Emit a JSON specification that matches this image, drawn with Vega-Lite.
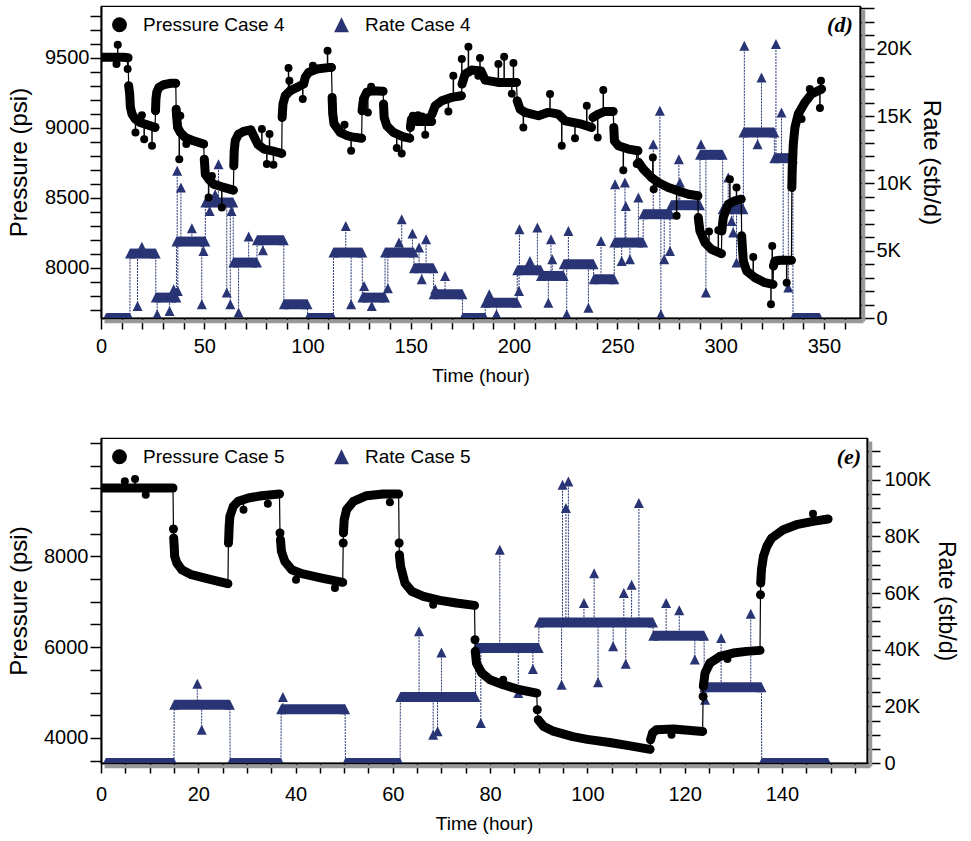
{
"$schema": "https://vega.github.io/schema/vega-lite/v6.json",
"background": "white",
"padding": {"left": 6, "top": 5, "right": 2, "bottom": 5},
"spacing": 51,
"resolve": {"scale": {"x": "independent", "y": "independent", "color": "independent", "shape": "independent"}},
"config": {
  "view": {"stroke": "black", "strokeWidth": 1.2},
  "axis": {"grid": false, "labelOverlap": false, "labelFont": "Liberation Sans, Arial, sans-serif", "labelFontSize": 20, "labelColor": "black", "tickColor": "black", "tickWidth": 1.5, "domainColor": "black", "domainWidth": 2, "titleFontWeight": "normal", "titleColor": "black", "titleFont": "Liberation Sans, Arial, sans-serif"},
  "legend": {"orient": "top-left", "direction": "horizontal", "symbolSize": 220, "labelFont": "Liberation Sans, Arial, sans-serif", "labelFontSize": 19, "labelColor": "black", "columnPadding": 47, "labelOffset": 14, "offset": 9, "padding": 0, "symbolStrokeWidth": 0}
},
"datasets": {
"p4": [
{"t":0.3,"p":9503,"s":"a"},{"t":3,"p":9503,"s":"a"},{"t":6,"p":9503,"s":"a"},{"t":9,"p":9503,"s":"a"},{"t":11,"p":9503,"s":"a"},{"t":13.1,"p":9500,"s":"a"},
{"t":13.4,"p":9300,"s":"b"},{"t":13.9,"p":9241,"s":"b"},{"t":14.2,"p":9150,"s":"b"},{"t":15,"p":9098,"s":"b"},{"t":16.6,"p":9062,"s":"b"},{"t":19,"p":9038,"s":"b"},{"t":22.3,"p":9022,"s":"b"},{"t":26.2,"p":9003,"s":"b"},
{"t":26.4,"p":9122,"s":"c"},{"t":26.6,"p":9205,"s":"c"},{"t":27,"p":9253,"s":"c"},{"t":28,"p":9288,"s":"c"},{"t":30.3,"p":9307,"s":"c"},{"t":33.5,"p":9317,"s":"c"},{"t":36.2,"p":9317,"s":"c"},
{"t":36.4,"p":9133,"s":"d"},{"t":36.6,"p":9086,"s":"d"},{"t":37.1,"p":9003,"s":"d"},{"t":38.4,"p":8967,"s":"d"},{"t":40.8,"p":8931,"s":"d"},{"t":44.8,"p":8907,"s":"d"},{"t":49.7,"p":8884,"s":"d"},
{"t":50,"p":8776,"s":"e"},{"t":50.2,"p":8740,"s":"e"},{"t":50.5,"p":8669,"s":"e"},{"t":52.1,"p":8634,"s":"e"},{"t":54.5,"p":8598,"s":"e"},{"t":58.5,"p":8579,"s":"e"},{"t":64.1,"p":8555,"s":"e"},
{"t":64.3,"p":8729,"s":"f"},{"t":64.5,"p":8836,"s":"f"},{"t":65,"p":8907,"s":"f"},{"t":66.6,"p":8955,"s":"f"},{"t":69,"p":8974,"s":"f"},{"t":72.5,"p":8986,"s":"f"},{"t":74,"p":8940,"s":"f"},{"t":76,"p":8880,"s":"f"},{"t":79,"p":8848,"s":"f"},{"t":84,"p":8831,"s":"f"},{"t":87.5,"p":8817,"s":"f"},
{"t":87.7,"p":9074,"s":"g"},{"t":88.1,"p":9169,"s":"g"},{"t":89.2,"p":9229,"s":"g"},{"t":91.6,"p":9264,"s":"g"},{"t":94.8,"p":9288,"s":"g"},{"t":98.1,"p":9312,"s":"g"},{"t":98.9,"p":9360,"s":"g"},{"t":100.5,"p":9395,"s":"g"},{"t":104.5,"p":9419,"s":"g"},{"t":111,"p":9431,"s":"g"},{"t":111.6,"p":9431,"s":"g"},
{"t":111.9,"p":9217,"s":"h"},{"t":112.2,"p":9100,"s":"h"},{"t":112.8,"p":9030,"s":"h"},{"t":115.8,"p":8967,"s":"h"},{"t":119,"p":8945,"s":"h"},{"t":121.4,"p":8935,"s":"h"},{"t":126.2,"p":8926,"s":"h"},
{"t":126.4,"p":9122,"s":"i"},{"t":127.1,"p":9205,"s":"i"},{"t":128.7,"p":9253,"s":"i"},{"t":131.1,"p":9264,"s":"i"},{"t":136.6,"p":9260,"s":"i"},
{"t":136.8,"p":9169,"s":"k"},{"t":137.1,"p":9074,"s":"k"},{"t":138.4,"p":9014,"s":"k"},{"t":141.6,"p":8967,"s":"k"},{"t":146.4,"p":8936,"s":"k"},{"t":149.5,"p":8926,"s":"k"},
{"t":149.8,"p":9003,"s":"l"},{"t":150.3,"p":9060,"s":"l"},{"t":153,"p":9045,"s":"l"},{"t":157,"p":9045,"s":"l"},{"t":160.1,"p":9045,"s":"l"},
{"t":160.3,"p":9098,"s":"m"},{"t":161.8,"p":9157,"s":"m"},{"t":165,"p":9193,"s":"m"},{"t":169.8,"p":9217,"s":"m"},{"t":174.5,"p":9229,"s":"m"},
{"t":174.8,"p":9312,"s":"n"},{"t":176.3,"p":9383,"s":"n"},{"t":179.5,"p":9412,"s":"n"},{"t":184,"p":9405,"s":"n"},{"t":186,"p":9340,"s":"n"},{"t":192.4,"p":9324,"s":"n"},{"t":201.2,"p":9324,"s":"n"},
{"t":201.5,"p":9193,"s":"o"},{"t":202.9,"p":9133,"s":"o"},{"t":205.3,"p":9110,"s":"o"},{"t":211.8,"p":9086,"s":"o"},{"t":214.5,"p":9100,"s":"o"},{"t":216.6,"p":9110,"s":"o"},{"t":219,"p":9105,"s":"o"},{"t":221.4,"p":9098,"s":"o"},{"t":224.7,"p":9050,"s":"o"},{"t":232.7,"p":9026,"s":"o"},{"t":237.5,"p":9003,"s":"o"},
{"t":238.2,"p":9074,"s":"p"},{"t":240.8,"p":9098,"s":"p"},{"t":244,"p":9117,"s":"p"},{"t":248,"p":9117,"s":"p"},
{"t":248.3,"p":9003,"s":"q"},{"t":248.6,"p":8907,"s":"q"},{"t":250.5,"p":8872,"s":"q"},{"t":255.3,"p":8848,"s":"q"},{"t":260,"p":8836,"s":"q"},
{"t":260.3,"p":8753,"s":"r"},{"t":262.6,"p":8705,"s":"r"},{"t":266.6,"p":8645,"s":"r"},{"t":269.8,"p":8610,"s":"r"},{"t":274.7,"p":8574,"s":"r"},{"t":279.5,"p":8550,"s":"r"},{"t":284.4,"p":8526,"s":"r"},{"t":289,"p":8515,"s":"r"},
{"t":289.2,"p":8360,"s":"s"},{"t":290,"p":8264,"s":"s"},{"t":292.4,"p":8181,"s":"s"},{"t":295.6,"p":8133,"s":"s"},{"t":300.4,"p":8102,"s":"s"},
{"t":300.6,"p":8264,"s":"t"},{"t":301.3,"p":8360,"s":"t"},{"t":303.7,"p":8455,"s":"t"},{"t":306.9,"p":8479,"s":"t"},{"t":310,"p":8491,"s":"t"},
{"t":310.2,"p":8229,"s":"u"},{"t":311,"p":8050,"s":"u"},{"t":312.6,"p":7979,"s":"u"},{"t":316.6,"p":7931,"s":"u"},{"t":321.5,"p":7895,"s":"u"},{"t":325.4,"p":7883,"s":"u"},
{"t":325.6,"p":8014,"s":"v"},{"t":326.3,"p":8050,"s":"v"},{"t":328.7,"p":8055,"s":"v"},{"t":334.3,"p":8055,"s":"v"},
{"t":334.5,"p":8574,"s":"w"},{"t":334.7,"p":8705,"s":"w"},{"t":335.2,"p":8884,"s":"w"},{"t":336,"p":9003,"s":"w"},{"t":337.6,"p":9098,"s":"w"},{"t":340.8,"p":9181,"s":"w"},{"t":344,"p":9241,"s":"w"},{"t":348.9,"p":9276,"s":"w"}
],
"o4": [
{"t":7.5,"p":9455,"b":9503},{"t":8.1,"p":9593,"b":9503},{"t":12.9,"p":9419,"b":9503},
{"t":16.7,"p":8967,"b":9062},{"t":19.8,"p":9090,"b":9035},{"t":20.9,"p":8919,"b":9030},{"t":24.7,"p":8872,"b":9010},
{"t":37.9,"p":8776,"b":8990},{"t":38.4,"p":9086,"b":8967},{"t":41.3,"p":8884,"b":8930},
{"t":52.1,"p":8503,"b":8634},{"t":53.7,"p":8657,"b":8610},{"t":58.5,"p":8431,"b":8579},
{"t":77.9,"p":8991,"b":8860},{"t":80.3,"p":8741,"b":8840},{"t":81.6,"p":8955,"b":8838},{"t":83.5,"p":8736,"b":8832},
{"t":90.8,"p":9426,"b":9260},{"t":91.2,"p":9336,"b":9262},{"t":97.7,"p":9205,"b":9310},
{"t":102.6,"p":9443,"b":9410},{"t":109.7,"p":9550,"b":9430},
{"t":117.9,"p":9022,"b":8950},{"t":121.1,"p":8836,"b":8935},
{"t":129.2,"p":9110,"b":9258},{"t":130.8,"p":9293,"b":9262},
{"t":143.2,"p":8855,"b":8955},{"t":145.6,"p":8817,"b":8945},
{"t":151,"p":9086,"b":9050},{"t":153.5,"p":9090,"b":9045},{"t":155.5,"p":9080,"b":9045},{"t":157,"p":8950,"b":9045},{"t":158.5,"p":9075,"b":9045},
{"t":168.2,"p":9117,"b":9212},
{"t":170.6,"p":9372,"b":9220},{"t":174.7,"p":9491,"b":9300},{"t":177.9,"p":9579,"b":9395},{"t":182.7,"p":9372,"b":9410},{"t":183.5,"p":9498,"b":9405},{"t":192.4,"p":9455,"b":9324},{"t":195.2,"p":9507,"b":9324},{"t":198.9,"p":9243,"b":9324},{"t":199.7,"p":9462,"b":9324},
{"t":204.5,"p":9003,"b":9115},{"t":217.4,"p":9241,"b":9110},{"t":223.1,"p":8872,"b":9070},{"t":229.5,"p":8926,"b":9030},
{"t":235.2,"p":9157,"b":9010},{"t":240.5,"p":8931,"b":9098},{"t":243.2,"p":9269,"b":9117},
{"t":252.9,"p":8698,"b":8860},{"t":259.4,"p":8741,"b":8838},{"t":267.2,"p":8788,"b":8640},{"t":267.6,"p":8562,"b":8640},
{"t":278.7,"p":8372,"b":8550},
{"t":294.4,"p":8260,"b":8150},{"t":298.9,"p":8269,"b":8110},
{"t":304.5,"p":8633,"b":8460},{"t":307.7,"p":8574,"b":8482},
{"t":315.8,"p":8079,"b":7935},{"t":324.4,"p":7741,"b":7885},{"t":325,"p":8157,"b":7885},
{"t":332,"p":7895,"b":8055},
{"t":339.2,"p":9062,"b":9140},{"t":343.2,"p":9276,"b":9230},{"t":348.1,"p":9141,"b":9270},{"t":348.6,"p":9336,"b":9275}
],
"r4": [
{"t":2.5,"q":0,"s":"a"},{"t":14,"q":0,"s":"a"},
{"t":14.05,"q":4785,"s":"b"},{"t":26.5,"q":4785,"s":"b"},
{"t":26.55,"q":1514,"s":"c"},{"t":36.5,"q":1514,"s":"c"},
{"t":36.55,"q":5677,"s":"d"},{"t":50.5,"q":5677,"s":"d"},
{"t":50.55,"q":8576,"s":"e"},{"t":64,"q":8576,"s":"e"},
{"t":64.05,"q":4116,"s":"f"},{"t":75.5,"q":4116,"s":"f"},
{"t":75.55,"q":5776,"s":"g"},{"t":88.5,"q":5776,"s":"g"},
{"t":88.55,"q":1018,"s":"h"},{"t":100,"q":1018,"s":"h"},
{"t":100.05,"q":0,"s":"i"},{"t":112.5,"q":0,"s":"i"},
{"t":112.55,"q":4860,"s":"j"},{"t":126.5,"q":4860,"s":"j"},
{"t":126.55,"q":1514,"s":"k"},{"t":137.5,"q":1514,"s":"k"},
{"t":137.55,"q":4860,"s":"l"},{"t":151.5,"q":4860,"s":"l"},
{"t":151.55,"q":3695,"s":"m"},{"t":161,"q":3695,"s":"m"},
{"t":161.05,"q":1762,"s":"n"},{"t":175,"q":1762,"s":"n"},
{"t":175.05,"q":0,"s":"o"},{"t":186,"q":0,"s":"o"},
{"t":186.05,"q":1142,"s":"p"},{"t":201.5,"q":1142,"s":"p"},
{"t":201.55,"q":3546,"s":"q"},{"t":213,"q":3546,"s":"q"},
{"t":213.05,"q":3125,"s":"r"},{"t":224,"q":3125,"s":"r"},
{"t":224.05,"q":3992,"s":"s"},{"t":238.5,"q":3992,"s":"s"},
{"t":238.55,"q":2877,"s":"t"},{"t":248.5,"q":2877,"s":"t"},
{"t":248.55,"q":5603,"s":"u"},{"t":262.5,"q":5603,"s":"u"},
{"t":262.55,"q":7709,"s":"v"},{"t":276,"q":7709,"s":"v"},
{"t":276.05,"q":8378,"s":"w"},{"t":290,"q":8378,"s":"w"},
{"t":290.05,"q":12120,"s":"x"},{"t":301,"q":12120,"s":"x"},
{"t":301.05,"q":8081,"s":"y"},{"t":311,"q":8081,"s":"y"},
{"t":311.05,"q":13780,"s":"z"},{"t":326,"q":13780,"s":"z"},
{"t":326.05,"q":11872,"s":"A"},{"t":335,"q":11872,"s":"A"},
{"t":335.05,"q":0,"s":"B"},{"t":348,"q":0,"s":"B"}
],
"k4": [
{"t":17.7,"q":894,"b":4785},{"t":19.8,"q":5300,"b":4785},{"t":27.2,"q":275,"b":1514},{"t":33.2,"q":523,"b":1514},{"t":35.2,"q":2133,"b":1514},
{"t":36.9,"q":10930,"b":5677},{"t":37.2,"q":2009,"b":5677},{"t":38.7,"q":9691,"b":5677},{"t":44,"q":6668,"b":5677},{"t":48.8,"q":1018,"b":5677},{"t":49.6,"q":4983,"b":5677},
{"t":52.6,"q":7957,"b":8576},{"t":55.3,"q":9196,"b":8576},{"t":56.9,"q":11426,"b":8576},{"t":60.9,"q":1886,"b":8576},{"t":62.6,"q":1018,"b":8576},{"t":63.2,"q":7957,"b":8576},
{"t":66.6,"q":400,"b":4116},{"t":71.5,"q":6050,"b":4116},{"t":78.4,"q":5033,"b":5776},
{"t":118.5,"q":6842,"b":4860},{"t":121.1,"q":1018,"b":4860},{"t":127.4,"q":2381,"b":1514},{"t":131.1,"q":894,"b":1514},
{"t":138.9,"q":2207,"b":4860},{"t":144.3,"q":5603,"b":4860},{"t":145.6,"q":7337,"b":4860},{"t":150.8,"q":6272,"b":4860},
{"t":154,"q":5231,"b":3695},{"t":155.3,"q":2877,"b":3695},{"t":157.4,"q":5851,"b":3695},{"t":161.8,"q":2133,"b":1762},{"t":166.6,"q":3125,"b":1762},
{"t":188,"q":1762,"b":1142},{"t":191.5,"q":275,"b":1142},
{"t":202.4,"q":2009,"b":3546},{"t":202.6,"q":6594,"b":3546},{"t":207.7,"q":4240,"b":3546},{"t":211.3,"q":6718,"b":3546},
{"t":216.6,"q":1142,"b":3125},{"t":217.9,"q":5851,"b":3125},{"t":218.5,"q":4364,"b":3125},
{"t":225.5,"q":275,"b":3992},{"t":226.3,"q":6470,"b":3992},{"t":236,"q":770,"b":3992},
{"t":242.1,"q":5727,"b":2877},
{"t":248.9,"q":9939,"b":5603},{"t":252.1,"q":4240,"b":5603},{"t":253.7,"q":10063,"b":5603},{"t":254.1,"q":8328,"b":5603},{"t":256.1,"q":4364,"b":5603},{"t":260.2,"q":8948,"b":5603},
{"t":267.4,"q":12913,"b":7709},{"t":270.6,"q":15391,"b":7709},{"t":271.1,"q":276,"b":7709},{"t":272.7,"q":4364,"b":7709},{"t":275.5,"q":4983,"b":7709},
{"t":279.8,"q":11798,"b":8378},{"t":280.3,"q":10063,"b":8378},
{"t":290.5,"q":12913,"b":12120},{"t":292.9,"q":1886,"b":12120},
{"t":303.7,"q":10435,"b":8081},{"t":305.3,"q":7213,"b":8081},{"t":306.1,"q":6346,"b":8081},{"t":307.7,"q":4116,"b":8081},
{"t":311.5,"q":20223,"b":13780},{"t":317.9,"q":12913,"b":13780},{"t":319.8,"q":17869,"b":13780},
{"t":326.8,"q":20347,"b":11872},{"t":329.5,"q":15267,"b":11872},{"t":330.3,"q":4364,"b":11872},{"t":332.8,"q":2257,"b":11872}
],
"p5": [
{"t":0.3,"p":9506,"s":"a"},{"t":3,"p":9506,"s":"a"},{"t":6,"p":9506,"s":"a"},{"t":9,"p":9506,"s":"a"},{"t":12,"p":9506,"s":"a"},{"t":14.8,"p":9506,"s":"a"},
{"t":14.9,"p":8603,"s":"j1"},
{"t":14.95,"p":8404,"s":"b"},{"t":15.05,"p":8221,"s":"b"},{"t":15.15,"p":8001,"s":"b"},{"t":15.6,"p":7854,"s":"b"},{"t":16.6,"p":7707,"s":"b"},{"t":18.6,"p":7597,"s":"b"},{"t":21.4,"p":7523,"s":"b"},{"t":24.1,"p":7450,"s":"b"},{"t":26.1,"p":7398,"s":"b"},
{"t":26.2,"p":8294,"s":"j2"},
{"t":26.25,"p":8368,"s":"c"},{"t":26.35,"p":8661,"s":"c"},{"t":26.5,"p":8882,"s":"c"},{"t":27.2,"p":9102,"s":"c"},{"t":28.2,"p":9212,"s":"c"},{"t":30.3,"p":9286,"s":"c"},{"t":33,"p":9337,"s":"c"},{"t":36.7,"p":9374,"s":"c"},
{"t":36.8,"p":8515,"s":"j3"},
{"t":36.9,"p":8368,"s":"d"},{"t":37.1,"p":8111,"s":"d"},{"t":37.8,"p":7890,"s":"d"},{"t":39.2,"p":7707,"s":"d"},{"t":41.3,"p":7619,"s":"d"},{"t":45.4,"p":7523,"s":"d"},{"t":49.7,"p":7428,"s":"d"},
{"t":49.8,"p":8294,"s":"j4"},
{"t":49.85,"p":8515,"s":"e"},{"t":50,"p":8808,"s":"e"},{"t":50.5,"p":9029,"s":"e"},{"t":51.9,"p":9212,"s":"e"},{"t":54.6,"p":9337,"s":"e"},{"t":58,"p":9374,"s":"e"},{"t":61.2,"p":9374,"s":"e"},
{"t":61.3,"p":8294,"s":"j5"},
{"t":61.35,"p":8037,"s":"f"},{"t":61.6,"p":7780,"s":"f"},{"t":62.5,"p":7413,"s":"f"},{"t":63.9,"p":7229,"s":"f"},{"t":66.3,"p":7119,"s":"f"},{"t":69.7,"p":7031,"s":"f"},{"t":73.1,"p":6972,"s":"f"},{"t":76.8,"p":6921,"s":"f"},
{"t":76.9,"p":6165,"s":"j6"},
{"t":76.95,"p":5908,"s":"g"},{"t":77.2,"p":5651,"s":"g"},{"t":78.3,"p":5431,"s":"g"},{"t":80,"p":5284,"s":"g"},{"t":82.7,"p":5173,"s":"g"},{"t":86.1,"p":5063,"s":"g"},{"t":89.6,"p":4990,"s":"g"},
{"t":89.7,"p":4623,"s":"j7"},
{"t":89.9,"p":4402,"s":"h"},{"t":91,"p":4256,"s":"h"},{"t":93,"p":4150,"s":"h"},{"t":97,"p":4030,"s":"h"},{"t":100,"p":3970,"s":"h"},{"t":104.6,"p":3900,"s":"h"},{"t":108.8,"p":3825,"s":"h"},{"t":112.9,"p":3750,"s":"h"},
{"t":113,"p":3962,"s":"i"},{"t":113.4,"p":4109,"s":"i"},{"t":114.2,"p":4182,"s":"i"},{"t":117.7,"p":4197,"s":"i"},{"t":123.7,"p":4145,"s":"i"},
{"t":123.8,"p":4916,"s":"j8"},
{"t":123.85,"p":5137,"s":"j"},{"t":124.2,"p":5431,"s":"j"},{"t":125.2,"p":5651,"s":"j"},{"t":127.3,"p":5798,"s":"j"},{"t":130,"p":5871,"s":"j"},{"t":132.7,"p":5908,"s":"j"},{"t":135.5,"p":5930,"s":"j"},
{"t":135.6,"p":7156,"s":"j9"},
{"t":135.65,"p":7413,"s":"k"},{"t":135.8,"p":7707,"s":"k"},{"t":136.2,"p":8001,"s":"k"},{"t":136.9,"p":8221,"s":"k"},{"t":137.9,"p":8404,"s":"k"},{"t":140.3,"p":8588,"s":"k"},{"t":143,"p":8698,"s":"k"},{"t":146.4,"p":8772,"s":"k"},{"t":149.5,"p":8823,"s":"k"}
],
"o5": [
{"t":4.9,"p":9653,"b":9506},{"t":7,"p":9704,"b":9506},{"t":9.2,"p":9359,"b":9506},{"t":29.3,"p":9029,"b":9250},{"t":34.3,"p":9161,"b":9350},{"t":40.1,"p":7487,"b":7650},{"t":48.1,"p":7303,"b":7440},{"t":59.4,"p":9190,"b":9370},{"t":68.3,"p":6936,"b":7050},{"t":82.7,"p":5284,"b":5173},{"t":117.3,"p":4072,"b":4195},{"t":128.8,"p":5739,"b":5830},{"t":146.4,"p":8940,"b":8772}
],
"r5": [
{"t":1,"q":0,"s":"a"},{"t":15,"q":0,"s":"a"},
{"t":15.05,"q":20600,"s":"b"},{"t":26.5,"q":20600,"s":"b"},
{"t":26.55,"q":0,"s":"c"},{"t":37,"q":0,"s":"c"},
{"t":37.05,"q":19000,"s":"d"},{"t":50.2,"q":19000,"s":"d"},
{"t":50.25,"q":0,"s":"e"},{"t":61.5,"q":0,"s":"e"},
{"t":61.55,"q":23300,"s":"f"},{"t":77,"q":23300,"s":"f"},
{"t":77.05,"q":40600,"s":"g"},{"t":90,"q":40600,"s":"g"},
{"t":90.05,"q":49600,"s":"h"},{"t":113.5,"q":49600,"s":"h"},
{"t":113.55,"q":44900,"s":"i"},{"t":124,"q":44900,"s":"i"},
{"t":124.05,"q":26700,"s":"j"},{"t":135.8,"q":26700,"s":"j"},
{"t":135.85,"q":0,"s":"k"},{"t":149.5,"q":0,"s":"k"}
],
"k5": [
{"t":19.8,"q":28000,"b":20600},{"t":20.7,"q":11750,"b":20600},{"t":37.4,"q":23300,"b":19000},
{"t":65.4,"q":46500,"b":23300},{"t":68.3,"q":10000,"b":23300},{"t":69.2,"q":11200,"b":23300},{"t":70,"q":39000,"b":23300},
{"t":78.1,"q":14100,"b":40600},{"t":82,"q":75300,"b":40600},{"t":85.8,"q":24700,"b":40600},{"t":88.8,"q":33200,"b":40600},
{"t":94.7,"q":27600,"b":49600},{"t":94.9,"q":98200,"b":49600},{"t":95.6,"q":90000,"b":49600},{"t":96.1,"q":99400,"b":49600},{"t":99.3,"q":56500,"b":49600},{"t":101.4,"q":67000,"b":49600},{"t":102.2,"q":28500,"b":49600},{"t":105.3,"q":41200,"b":49600},{"t":107.5,"q":60000,"b":49600},{"t":107.9,"q":35000,"b":49600},{"t":109.1,"q":62900,"b":49600},{"t":110.6,"q":91800,"b":49600},
{"t":116.2,"q":56500,"b":44900},{"t":118.9,"q":53900,"b":44900},{"t":122.1,"q":36500,"b":44900},
{"t":124.2,"q":22300,"b":26700},{"t":127.5,"q":44100,"b":26700},{"t":133.6,"q":52700,"b":26700}
],
"lab4": [{"t":364,"p":9686,"lab":"(d)"}],
"lab5": [{"t":156.3,"p":10042,"lab":"(e)"}],
"frame4": [{"t0":0,"t1":367.5,"p0":7643,"p1":9869}],
"frame5": [{"t0":0,"t1":157.5,"p0":3449,"p1":10608}]
},
"vconcat": [
{
  "width": 759, "height": 312,
  "resolve": {"scale": {"y": "independent"}},
  "layer": [
    {
      "encoding": {
        "x": {"field": "t", "type": "quantitative", "scale": {"domain": [0, 367.5], "nice": false, "zero": false},
              "axis": {"orient": "bottom", "values": [0,10,20,30,40,50,60,70,80,90,100,110,120,130,140,150,160,170,180,190,200,210,220,230,240,250,260,270,280,290,300,310,320,330,340,350,360],
                       "labelExpr": "datum.value % 50 === 0 ? datum.label : ''", "format": "d", "labelOverlap": false,
                       "labelFontSize": {"condition": {"test": "datum.value % 50 !== 0", "value": 0}, "value": 20},
                       "tickSize": 11, "labelPadding": 7, "labelFlush": false,
                       "encode": {"ticks": {"update": {"y": {"value": -13}, "y2": {"signal": "datum.value % 50 === 0 ? 11 : 0"}}}},
                       "title": "Time (hour)", "titleFontSize": 19, "titlePadding": 10}},
        "y": {"field": "q", "type": "quantitative", "scale": {"domain": [0, 23175], "nice": false, "zero": false},
              "axis": {"orient": "right", "values": [0,1000,2000,3000,4000,5000,6000,7000,8000,9000,10000,11000,12000,13000,14000,15000,16000,17000,18000,19000,20000,21000,22000,23000],
                       "labelExpr": "datum.value % 5000 === 0 ? (datum.value === 0 ? '0' : format(datum.value/1000, 'd') + 'K') : ''",
                       "labelFontSize": {"condition": {"test": "datum.value % 5000 !== 0", "value": 0}, "value": 20},
                       "labelOverlap": false,
                       "tickSize": 14, "labelPadding": 2, "labelBaseline": "middle",
                       "encode": {"ticks": {"update": {"x": {"value": -11}, "x2": {"signal": "datum.value % 5000 === 0 ? 14 : 0"}}}},
                       "title": "Rate (stb/d)", "titleAngle": 90, "titleFontSize": 24, "titlePadding": 7}}
      },
      "layer": [
        {"data": {"name": "r4"}, "mark": {"type": "line", "color": "#283474", "strokeWidth": 1, "strokeDash": [2, 1], "clip": true}},
        {"data": {"name": "r4"}, "mark": {"type": "line", "color": "#283474", "strokeWidth": 10, "strokeCap": "butt", "clip": true}, "encoding": {"detail": {"field": "s"}}},
        {"data": {"name": "k4"}, "mark": {"type": "rule", "color": "#283474", "strokeWidth": 1, "strokeDash": [2, 1], "clip": true}, "encoding": {"y2": {"field": "b"}}},
        {"data": {"name": "k4"}, "mark": {"type": "point", "shape": "M0,-1L1,1L-1,1Z", "filled": true, "size": 100, "color": "#283474", "opacity": 1, "clip": true}},
        {"data": {"name": "r4"}, "mark": {"type": "point", "filled": true, "size": 100, "opacity": 1, "clip": true},
         "encoding": {
           "color": {"datum": "Rate Case 4", "scale": {"domain": ["Pressure Case 4", "Rate Case 4"], "range": ["black", "#283474"]}, "legend": {"title": null}},
           "shape": {"datum": "Rate Case 4", "scale": {"domain": ["Pressure Case 4", "Rate Case 4"], "range": ["circle", "M0,-1L1,1L-1,1Z"]}, "legend": {"title": null}}
         }}
      ]
    },
    {
      "encoding": {
        "x": {"field": "t", "type": "quantitative", "scale": {"domain": [0, 367.5], "nice": false, "zero": false},
              "axis": {"orient": "bottom", "values": [0,10,20,30,40,50,60,70,80,90,100,110,120,130,140,150,160,170,180,190,200,210,220,230,240,250,260,270,280,290,300,310,320,330,340,350,360],
                       "labelExpr": "datum.value % 50 === 0 ? datum.label : ''", "format": "d", "labelOverlap": false,
                       "labelFontSize": {"condition": {"test": "datum.value % 50 !== 0", "value": 0}, "value": 20},
                       "tickSize": 11, "labelPadding": 7, "labelFlush": false,
                       "encode": {"ticks": {"update": {"y": {"value": -13}, "y2": {"signal": "datum.value % 50 === 0 ? 11 : 0"}}}},
                       "title": "Time (hour)", "titleFontSize": 19, "titlePadding": 10}},
        "y": {"field": "p", "type": "quantitative", "scale": {"domain": [7643, 9869], "nice": false, "zero": false},
              "axis": {"orient": "left", "values": [7700,7800,7900,8000,8100,8200,8300,8400,8500,8600,8700,8800,8900,9000,9100,9200,9300,9400,9500,9600,9700,9800],
                       "labelExpr": "datum.value % 500 === 0 ? datum.label : ''", "format": "d", "labelOverlap": false,
                       "labelFontSize": {"condition": {"test": "datum.value % 500 !== 0", "value": 0}, "value": 20},
                       "tickSize": 11, "labelPadding": 1,
                       "encode": {"ticks": {"update": {"x": {"value": 11}, "x2": {"signal": "datum.value % 500 === 0 ? -11 : 0"}}}},
                       "title": "Pressure (psi)", "titleFontSize": 24, "titlePadding": 13}}
      },
      "layer": [
        {"data": {"name": "frame4"}, "mark": {"type": "rule", "color": "#999999", "strokeWidth": 3.5, "xOffset": 3.5, "x2Offset": 3.5, "yOffset": 3.5, "clip": false},
         "encoding": {"x": {"field": "t0", "type": "quantitative"}, "x2": {"field": "t1"}, "y": {"field": "p0", "type": "quantitative"}}},
        {"data": {"name": "frame4"}, "mark": {"type": "rule", "color": "#999999", "strokeWidth": 3.5, "xOffset": 3.5, "yOffset": 3.5, "y2Offset": 3.5, "clip": false},
         "encoding": {"x": {"field": "t1", "type": "quantitative"}, "y": {"field": "p0", "type": "quantitative"}, "y2": {"field": "p1"}}},
        {"data": {"name": "p4"}, "mark": {"type": "line", "color": "black", "strokeWidth": 1.2, "clip": true}},
        {"data": {"name": "p4"}, "mark": {"type": "line", "color": "black", "strokeWidth": 9, "strokeCap": "round", "strokeJoin": "round", "clip": true}, "encoding": {"detail": {"field": "s"}}},
        {"data": {"name": "o4"}, "mark": {"type": "rule", "color": "black", "strokeWidth": 1.5, "clip": true}, "encoding": {"y2": {"field": "b"}}},
        {"data": {"name": "o4"}, "mark": {"type": "circle", "size": 64, "color": "black", "opacity": 1, "clip": true}},
        {"data": {"name": "p4"}, "mark": {"type": "point", "filled": true, "size": 64, "opacity": 1, "clip": true},
         "encoding": {
           "color": {"datum": "Pressure Case 4", "scale": {"domain": ["Pressure Case 4", "Rate Case 4"], "range": ["black", "#283474"]}, "legend": {"title": null}},
           "shape": {"datum": "Pressure Case 4", "scale": {"domain": ["Pressure Case 4", "Rate Case 4"], "range": ["circle", "M0,-1L1,1L-1,1Z"]}, "legend": {"title": null}}
         }},
        {"data": {"name": "lab4"}, "mark": {"type": "text", "font": "Liberation Serif, DejaVu Serif, serif", "fontSize": 22, "fontStyle": "italic", "fontWeight": "bold", "align": "right", "baseline": "alphabetic", "color": "black"},
         "encoding": {"text": {"field": "lab"}}}
      ]
    }
  ]
},
{
  "width": 766, "height": 325,
  "resolve": {"scale": {"y": "independent"}},
  "layer": [
    {
      "encoding": {
        "x": {"field": "t", "type": "quantitative", "scale": {"domain": [0, 157.5], "nice": false, "zero": false},
              "axis": {"orient": "bottom", "values": [0,5,10,15,20,25,30,35,40,45,50,55,60,65,70,75,80,85,90,95,100,105,110,115,120,125,130,135,140,145,150,155],
                       "labelExpr": "datum.value % 20 === 0 ? datum.label : ''", "format": "d", "labelOverlap": false,
                       "labelFontSize": {"condition": {"test": "datum.value % 20 !== 0", "value": 0}, "value": 20},
                       "tickSize": 10, "labelPadding": 11, "labelFlush": false,
                       "encode": {"ticks": {"update": {"y": {"value": -13}, "y2": {"signal": "datum.value % 20 === 0 ? 10 : 0"}}}},
                       "title": "Time (hour)", "titleFontSize": 19, "titlePadding": 10}},
        "y": {"field": "q", "type": "quantitative", "scale": {"domain": [0, 114720], "nice": false, "zero": false},
              "axis": {"orient": "right", "values": [0,5000,10000,15000,20000,25000,30000,35000,40000,45000,50000,55000,60000,65000,70000,75000,80000,85000,90000,95000,100000,105000,110000],
                       "labelExpr": "datum.value % 20000 === 0 ? (datum.value === 0 ? '0' : format(datum.value/1000, 'd') + 'K') : ''",
                       "labelFontSize": {"condition": {"test": "datum.value % 20000 !== 0", "value": 0}, "value": 20},
                       "labelOverlap": false,
                       "tickSize": 13, "labelPadding": 4, "labelBaseline": "middle",
                       "encode": {"ticks": {"update": {"x": {"value": -11}, "x2": {"signal": "datum.value % 20000 === 0 ? 13 : 0"}}}},
                       "title": "Rate (stb/d)", "titleAngle": 90, "titleFontSize": 23, "titlePadding": 3}}
      },
      "layer": [
        {"data": {"name": "r5"}, "mark": {"type": "line", "color": "#283474", "strokeWidth": 1, "strokeDash": [2, 1], "clip": true}},
        {"data": {"name": "r5"}, "mark": {"type": "line", "color": "#283474", "strokeWidth": 10, "strokeCap": "butt", "clip": true}, "encoding": {"detail": {"field": "s"}}},
        {"data": {"name": "k5"}, "mark": {"type": "rule", "color": "#283474", "strokeWidth": 1, "strokeDash": [2, 1], "clip": true}, "encoding": {"y2": {"field": "b"}}},
        {"data": {"name": "k5"}, "mark": {"type": "point", "shape": "M0,-1L1,1L-1,1Z", "filled": true, "size": 100, "color": "#283474", "opacity": 1, "clip": true}},
        {"data": {"name": "r5"}, "mark": {"type": "point", "filled": true, "size": 100, "opacity": 1, "clip": true},
         "encoding": {
           "color": {"datum": "Rate Case 5", "scale": {"domain": ["Pressure Case 5", "Rate Case 5"], "range": ["black", "#283474"]}, "legend": {"title": null}},
           "shape": {"datum": "Rate Case 5", "scale": {"domain": ["Pressure Case 5", "Rate Case 5"], "range": ["circle", "M0,-1L1,1L-1,1Z"]}, "legend": {"title": null}}
         }}
      ]
    },
    {
      "encoding": {
        "x": {"field": "t", "type": "quantitative", "scale": {"domain": [0, 157.5], "nice": false, "zero": false},
              "axis": {"orient": "bottom", "values": [0,5,10,15,20,25,30,35,40,45,50,55,60,65,70,75,80,85,90,95,100,105,110,115,120,125,130,135,140,145,150,155],
                       "labelExpr": "datum.value % 20 === 0 ? datum.label : ''", "format": "d", "labelOverlap": false,
                       "labelFontSize": {"condition": {"test": "datum.value % 20 !== 0", "value": 0}, "value": 20},
                       "tickSize": 10, "labelPadding": 11, "labelFlush": false,
                       "encode": {"ticks": {"update": {"y": {"value": -13}, "y2": {"signal": "datum.value % 20 === 0 ? 10 : 0"}}}},
                       "title": "Time (hour)", "titleFontSize": 19, "titlePadding": 10}},
        "y": {"field": "p", "type": "quantitative", "scale": {"domain": [3449, 10608], "nice": false, "zero": false},
              "axis": {"orient": "left", "values": [3500,4000,4500,5000,5500,6000,6500,7000,7500,8000,8500,9000,9500,10000,10500],
                       "labelExpr": "(datum.value === 4000 || datum.value === 6000 || datum.value === 8000) ? datum.label : ''", "format": "d", "labelOverlap": false,
                       "labelFontSize": {"condition": {"test": "!(datum.value === 4000 || datum.value === 6000 || datum.value === 8000)", "value": 0}, "value": 20},
                       "tickSize": 11, "labelPadding": 2,
                       "encode": {"ticks": {"update": {"x": {"value": 11}, "x2": {"signal": "(datum.value === 4000 || datum.value === 6000 || datum.value === 8000) ? -11 : 0"}}}},
                       "title": "Pressure (psi)", "titleFontSize": 24, "titlePadding": 12}}
      },
      "layer": [
        {"data": {"name": "frame5"}, "mark": {"type": "rule", "color": "#999999", "strokeWidth": 3.5, "xOffset": 3.5, "x2Offset": 3.5, "yOffset": 3.5, "clip": false},
         "encoding": {"x": {"field": "t0", "type": "quantitative"}, "x2": {"field": "t1"}, "y": {"field": "p0", "type": "quantitative"}}},
        {"data": {"name": "frame5"}, "mark": {"type": "rule", "color": "#999999", "strokeWidth": 3.5, "xOffset": 3.5, "yOffset": 3.5, "y2Offset": 3.5, "clip": false},
         "encoding": {"x": {"field": "t1", "type": "quantitative"}, "y": {"field": "p0", "type": "quantitative"}, "y2": {"field": "p1"}}},
        {"data": {"name": "p5"}, "mark": {"type": "line", "color": "black", "strokeWidth": 1.2, "clip": true}},
        {"data": {"name": "p5"}, "mark": {"type": "line", "color": "black", "strokeWidth": 9, "strokeCap": "round", "strokeJoin": "round", "clip": true}, "encoding": {"detail": {"field": "s"}}},
        {"data": {"name": "o5"}, "mark": {"type": "rule", "color": "black", "strokeWidth": 1.5, "clip": true}, "encoding": {"y2": {"field": "b"}}},
        {"data": {"name": "o5"}, "mark": {"type": "circle", "size": 64, "color": "black", "opacity": 1, "clip": true}},
        {"data": {"name": "p5"}, "mark": {"type": "point", "filled": true, "size": 64, "opacity": 1, "clip": true},
         "encoding": {
           "color": {"datum": "Pressure Case 5", "scale": {"domain": ["Pressure Case 5", "Rate Case 5"], "range": ["black", "#283474"]}, "legend": {"title": null}},
           "shape": {"datum": "Pressure Case 5", "scale": {"domain": ["Pressure Case 5", "Rate Case 5"], "range": ["circle", "M0,-1L1,1L-1,1Z"]}, "legend": {"title": null}}
         }},
        {"data": {"name": "lab5"}, "mark": {"type": "text", "font": "Liberation Serif, DejaVu Serif, serif", "fontSize": 22, "fontStyle": "italic", "fontWeight": "bold", "align": "right", "baseline": "alphabetic", "color": "black"},
         "encoding": {"text": {"field": "lab"}}}
      ]
    }
  ]
}
]
}
